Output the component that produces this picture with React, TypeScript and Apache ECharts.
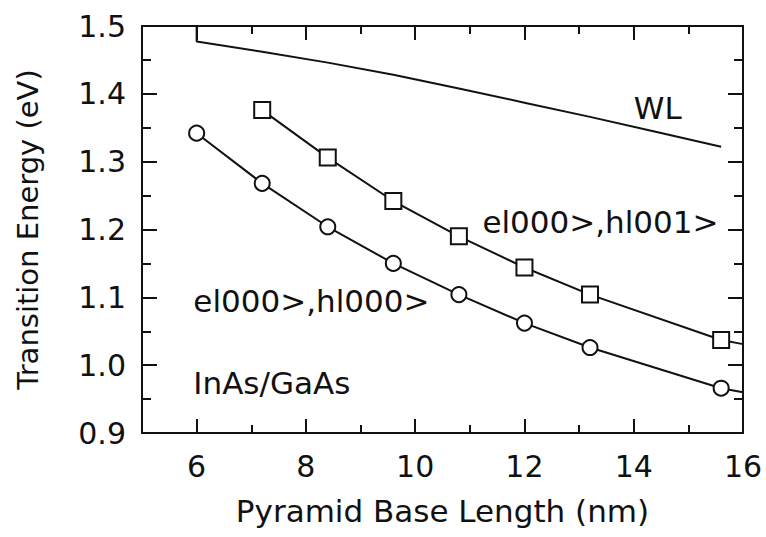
import React, { useEffect, useRef } from "react";
import * as echarts from "echarts";

// ---- data ----
const circleLength = [6, 7.2, 8.4, 9.6, 10.8, 12, 13.2, 15.6];
const circleEnergy = [1.342, 1.268, 1.204, 1.15, 1.104, 1.062, 1.026, 0.966];
const squareLength = [7.2, 8.4, 9.6, 10.8, 12, 13.2, 15.6];
const squareEnergy = [1.376, 1.306, 1.242, 1.19, 1.144, 1.104, 1.037];
const tailLength = 16;
const circleTail = 0.96;
const squareTail = 1.031;
const wlLength = [6, 6, 7.2, 8.4, 9.6, 10.8, 12, 13.2, 14.4, 15.6];
const wlEnergy = [1.5, 1.477, 1.462, 1.446, 1.428, 1.408, 1.387, 1.366, 1.344, 1.322];

const xMajorTicks = [6, 8, 10, 12, 14];
const xMinorTicks = [7, 9, 11, 13, 15];
const xLabels = [6, 8, 10, 12, 14, 16];
const yMajorTicks = [1.0, 1.1, 1.2, 1.3, 1.4];
const yMinorTicks = [0.95, 1.05, 1.15, 1.25, 1.35, 1.45];
const yLabels = [0.9, 1.0, 1.1, 1.2, 1.3, 1.4, 1.5];

const annotationText = ["WL", "el000>,hl001>", "el000>,hl000>", "InAs/GaAs"];
const annotationX = [14.0, 11.23, 5.94, 5.94];
const annotationY = [1.379, 1.211, 1.095, 0.974];

const FONT = "DejaVu Sans";
const INK = "#111111";

export default function App() {
  const ref = useRef<HTMLDivElement>(null);
  useEffect(() => {
    if (!ref.current) return;
    const chart = echarts.init(ref.current, null, { renderer: "svg" });

    const rect = { left: 142, top: 26, width: 601, height: 407, containLabel: false };

    const mkX = (grid: number, pos: "bottom" | "top", ticks: number[], len: number, labels: boolean, line: boolean) => ({
      type: "value",
      gridIndex: grid,
      position: pos,
      min: 5,
      max: 16,
      interval: 1,
      axisLine: { show: line, onZero: false, lineStyle: { color: INK, width: 2 } },
      axisTick: { show: true, inside: true, length: len, customValues: ticks, lineStyle: { color: INK, width: 2 } },
      axisLabel: labels
        ? { show: true, customValues: xLabels, fontFamily: FONT, fontSize: 30, color: INK, margin: 18, formatter: (v: number) => String(v) }
        : { show: false },
      splitLine: { show: false },
    });
    const mkY = (grid: number, pos: "left" | "right", ticks: number[], len: number, labels: boolean, line: boolean) => ({
      type: "value",
      gridIndex: grid,
      position: pos,
      min: 0.9,
      max: 1.5,
      interval: 0.05,
      axisLine: { show: line, onZero: false, lineStyle: { color: INK, width: 2 } },
      axisTick: { show: true, inside: true, length: len, customValues: ticks, lineStyle: { color: INK, width: 2 } },
      axisLabel: labels
        ? { show: true, customValues: yLabels, fontFamily: FONT, fontSize: 30, color: INK, margin: 16, formatter: (v: number) => v.toFixed(1) }
        : { show: false },
      splitLine: { show: false },
    });

    const xAxes: any[] = [
      {
        ...mkX(0, "bottom", xMajorTicks, 14, true, true),
        name: "Pyramid Base Length (nm)",
        nameLocation: "middle",
        nameGap: 62,
        nameTextStyle: { fontFamily: FONT, fontSize: 31, color: INK },
      },
      mkX(1, "bottom", xMinorTicks, 8, false, false),
      mkX(2, "top", xMajorTicks, 14, false, true),
      mkX(3, "top", xMinorTicks, 8, false, false),
    ];
    const yAxes: any[] = [
      {
        ...mkY(0, "left", yMajorTicks, 15, true, true),
        name: "Transition Energy (eV)",
        nameLocation: "middle",
        nameGap: 100,
        nameRotate: 90,
        nameTextStyle: { fontFamily: FONT, fontSize: 29, color: INK },
      },
      mkY(1, "left", yMinorTicks, 9, false, false),
      mkY(2, "right", yMajorTicks, 15, false, true),
      mkY(3, "right", yMinorTicks, 9, false, false),
    ];

    const pair = (xs: number[], ys: number[]) => xs.map((x, i) => [x, ys[i]]);

    chart.setOption({
      animation: false,
      backgroundColor: "#ffffff",
      grid: [rect, rect, rect, rect],
      xAxis: xAxes,
      yAxis: yAxes,
      series: [
        {
          type: "line",
          name: "WL",
          data: pair(wlLength, wlEnergy),
          showSymbol: false,
          symbol: "none",
          lineStyle: { color: INK, width: 2 },
        },
        {
          type: "line",
          name: "e000h000",
          data: [
            ...pair(circleLength, circleEnergy),
            { value: [tailLength, circleTail], symbol: "none" },
          ],
          symbol: "circle",
          symbolSize: 15,
          itemStyle: { color: "#ffffff", borderColor: INK, borderWidth: 2 },
          lineStyle: { color: INK, width: 2 },
          z: 3,
        },
        {
          type: "line",
          name: "e000h001",
          data: [
            ...pair(squareLength, squareEnergy),
            { value: [tailLength, squareTail], symbol: "none" },
          ],
          symbol: "rect",
          symbolSize: 16,
          itemStyle: { color: "#ffffff", borderColor: INK, borderWidth: 2 },
          lineStyle: { color: INK, width: 2 },
          z: 3,
        },
      ],
    });

    const texts = annotationText.map((t, i) => {
      const p = chart.convertToPixel({ gridIndex: 0 }, [annotationX[i], annotationY[i]]) as number[];
      return {
        type: "text",
        x: p[0],
        y: p[1],
        z: 10,
        style: {
          text: t,
          fontFamily: FONT,
          fontSize: 31,
          fill: INK,
          textAlign: "left",
          textVerticalAlign: "middle",
        },
      };
    });
    chart.setOption({ graphic: texts });

    return () => chart.dispose();
  }, []);
  return (
    <div
      ref={ref}
      style={{ position: "fixed", left: 0, top: 0, width: 766, height: 537, background: "#fff" }}
    />
  );
}
